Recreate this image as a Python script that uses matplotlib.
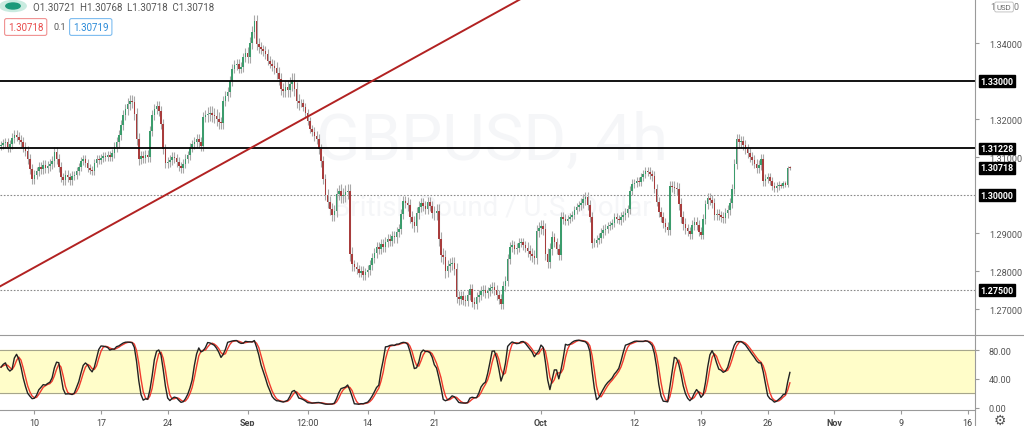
import numpy as np
import pandas as pd
import matplotlib
matplotlib.use("Agg")
import matplotlib.pyplot as plt
from matplotlib.lines import Line2D
from matplotlib.patches import Circle

plt.rcParams['font.family'] = ['Roboto', 'DejaVu Sans']

# GBPUSD 4h closes, Aug 5 12:00 .. Oct 27 (one row per trading day)
first_open = 1.3129
closes = [
    1.3132, 1.3137, 1.3139,                          # Aug 5
    1.3126, 1.3134, 1.3150, 1.3158, 1.3153, 1.3145,  # Aug 6
    1.3139, 1.3126, 1.3116, 1.3095, 1.3068, 1.3042,  # Aug 7
    1.3053, 1.3063, 1.3074, 1.3068, 1.3079, 1.3071,  # Aug 10
    1.3076, 1.3082, 1.3089, 1.3113, 1.3095, 1.3074,
    1.3047, 1.3039, 1.3053, 1.3047, 1.3039, 1.3050,
    1.3053, 1.3063, 1.3074, 1.3089, 1.3095, 1.3084,
    1.3071, 1.3066, 1.3063, 1.3084, 1.3095, 1.3092,
    1.3097, 1.3103, 1.3100, 1.3105, 1.3100, 1.3111,  # Aug 17
    1.3126, 1.3139, 1.3158, 1.3184, 1.3211, 1.3226,
    1.3239, 1.3247, 1.3245, 1.3213, 1.3147, 1.3095,
    1.3103, 1.3097, 1.3105, 1.3100, 1.3168, 1.3211,
    1.3226, 1.3234, 1.3221, 1.3187, 1.3121, 1.3084,
    1.3087, 1.3092, 1.3100, 1.3097, 1.3087, 1.3076,  # Aug 24
    1.3071, 1.3082, 1.3095, 1.3105, 1.3126, 1.3134,
    1.3139, 1.3147, 1.3139, 1.3129, 1.3205, 1.3211,
    1.3213, 1.3216, 1.3211, 1.3208, 1.3200, 1.3192,
    1.3189, 1.3247, 1.3261, 1.3271, 1.3300, 1.3332,
    1.3342, 1.3345, 1.3332, 1.3337, 1.3363, 1.3374,  # Aug 31
    1.3363, 1.3400, 1.3429, 1.3458, 1.3397, 1.3390,
    1.3384, 1.3379, 1.3371, 1.3353, 1.3345, 1.3339,
    1.3334, 1.3321, 1.3305, 1.3279, 1.3274, 1.3284,
    1.3276, 1.3292, 1.3303, 1.3279, 1.3247, 1.3242,
    1.3242, 1.3232, 1.3216, 1.3195, 1.3174, 1.3166,  # Sep 7
    1.3155, 1.3147, 1.3121, 1.3089, 1.3042, 1.3000,
    1.2982, 1.2963, 1.2947, 1.2958, 1.3003, 1.3011,
    1.2997, 1.3000, 1.3008, 1.3011, 1.2845, 1.2818,
    1.2811, 1.2805, 1.2795, 1.2800, 1.2789, 1.2797,
    1.2803, 1.2816, 1.2834, 1.2847, 1.2863, 1.2858,  # Sep 14
    1.2871, 1.2863, 1.2876, 1.2884, 1.2879, 1.2892,
    1.2889, 1.2903, 1.2911, 1.2950, 1.2984, 1.2979,
    1.2974, 1.2942, 1.2929, 1.2918, 1.2953, 1.2968,
    1.2979, 1.2971, 1.2963, 1.2982, 1.2971, 1.2953,
    1.2953, 1.2958, 1.2884, 1.2842, 1.2837, 1.2800,  # Sep 21
    1.2813, 1.2818, 1.2821, 1.2805, 1.2732, 1.2726,
    1.2734, 1.2724, 1.2721, 1.2737, 1.2753, 1.2718,
    1.2713, 1.2732, 1.2737, 1.2747, 1.2750, 1.2742,
    1.2747, 1.2755, 1.2758, 1.2750, 1.2737, 1.2726,
    1.2713, 1.2761, 1.2774, 1.2832, 1.2863, 1.2868,  # Sep 28
    1.2858, 1.2861, 1.2874, 1.2876, 1.2868, 1.2861,
    1.2853, 1.2845, 1.2839, 1.2834, 1.2905, 1.2913,
    1.2918, 1.2911, 1.2845, 1.2824, 1.2858, 1.2889,
    1.2876, 1.2858, 1.2842, 1.2942, 1.2937, 1.2932,
    1.2937, 1.2942, 1.2947, 1.2961, 1.2968, 1.2974,  # Oct 5
    1.2979, 1.2989, 1.2995, 1.2974, 1.2942, 1.2874,
    1.2874, 1.2882, 1.2887, 1.2900, 1.2908, 1.2911,
    1.2918, 1.2921, 1.2926, 1.2942, 1.2937, 1.2934,
    1.2942, 1.2947, 1.2953, 1.2963, 1.3011, 1.3029,
    1.3032, 1.3037, 1.3034, 1.3047, 1.3055, 1.3063,  # Oct 12
    1.3061, 1.3055, 1.3050, 1.3016, 1.2982, 1.2955,
    1.2942, 1.2926, 1.2916, 1.2908, 1.3024, 1.3021,
    1.3018, 1.3016, 1.2976, 1.2942, 1.2924, 1.2913,
    1.2905, 1.2897, 1.2921, 1.2929, 1.2921, 1.2903,
    1.2895, 1.2937, 1.2976, 1.2992, 1.2987, 1.2979,  # Oct 19
    1.2947, 1.2950, 1.2947, 1.2942, 1.2939, 1.2953,
    1.2961, 1.2979, 1.3016, 1.3082, 1.3147, 1.3139,
    1.3142, 1.3132, 1.3121, 1.3111, 1.3100, 1.3092,
    1.3082, 1.3071, 1.3079, 1.3095, 1.3037, 1.3042,
    1.3047, 1.3037, 1.3024, 1.3018, 1.3024, 1.3026,  # Oct 26
    1.3024, 1.3032, 1.3026, 1.30721, 1.30718,
]

# typical wick length per trading day, in pips
wick_pips = [10, 12, 14, 12, 14, 12, 10, 10,
             10, 14, 16, 14, 14,
             12, 12, 14, 18, 14,
             12, 16, 12, 16, 18,
             10, 14, 16, 18, 12,
             14, 14, 14, 16, 14,
             18, 16, 14, 14, 12,
             14, 12, 16, 16, 12,
             10, 14, 12, 10, 12,
             10, 12, 14, 16, 12,
             12, 12, 14, 14, 12,
             10, 5]

tick_pos = [15, 45, 75, 111, 138, 165, 195, 243, 285, 315, 345, 375, 405, 435]
tick_lbl = ['10', '17', '24', 'Sep', '12:00', '14', '21', 'Oct', '12', '19', '26', 'Nov', '9', '16']
bold_lbl = ['Sep', 'Oct', 'Nov']

solid_levels = [1.33000, 1.31228]
dotted_levels = [1.30000, 1.27500]
tag_levels = [1.33000, 1.31228, 1.30718, 1.30000, 1.27500]
price_ticks = [1.27, 1.28, 1.29, 1.31, 1.32, 1.34]
stoch_ticks = [0, 40, 80]
trend_pts = [(0, 1.2761), (167, 1.3300)]

green = '#3b9c6c'
red = '#a83c3c'

W, H = 1024, 427
def fx(px):
    return px / W
def fy(py):
    return 1 - py / H

fig = plt.figure(figsize=(10.24, 4.27), dpi=100)
ax = fig.add_axes([0, fy(336), fx(975), 336 / H])
ax2 = fig.add_axes([0, fy(411), fx(975), 75 / H], sharex=ax)

# candles
c = np.array(closes)
idx = np.arange(len(c))
o = np.r_[first_open, c[:-1]]
w = np.array(wick_pips)[(idx + 3) // 6] * 1e-4
hi = np.maximum(o, c) + w
lo = np.minimum(o, c) - w
up = c >= o
ax.vlines(idx, lo, hi, color='#a8a8a8', lw=0.8, zorder=2)
ax.bar(idx, np.maximum(np.abs(c - o), 0.00008), bottom=np.minimum(o, c), width=0.7,
       color=np.where(up, green, red), lw=0, zorder=3)

for lv in solid_levels:
    ax.axhline(lv, color='black', lw=1.3, zorder=4)
for lv in dotted_levels:
    ax.axhline(lv, color='#8a8a8a', lw=0.8, ls=(0, (1.5, 1.5)), zorder=1)
ax.axline(trend_pts[0], trend_pts[1], color='#b22222', lw=1.4, zorder=4)

ax.set_xlim(-0.45, 438.3)
ax.set_ylim(1.263158, 1.351579)
for sp in ax.spines.values():
    sp.set_visible(False)
ax.tick_params(axis='x', bottom=False, labelbottom=False)
ax.yaxis.tick_right()
ax.set_yticks(price_ticks)
ax.set_yticklabels(['%.5f' % v for v in price_ticks])
ax.tick_params(axis='y', length=3, color='#9a9a9a', labelsize=6.6, labelcolor='#555555', pad=7)

for lv in tag_levels:
    ax.text(1.0055, lv, '%.5f' % lv, transform=ax.get_yaxis_transform(), ha='left', va='center',
            fontsize=6.4, color='white', fontweight='bold', zorder=10, clip_on=False,
            bbox=dict(boxstyle='square,pad=0.15', fc='black', ec='black'))

# watermark
ax.text(fx(492), fy(160), 'GBPUSD, 4h', transform=fig.transFigure, ha='center', va='baseline',
        fontsize=47, color='#f5f6f8', zorder=0)
ax.text(fx(492), fy(216), 'British Pound / U.S. Dollar', transform=fig.transFigure, ha='center',
        va='baseline', fontsize=20, color='#f5f6f8', zorder=0)

# stochastic 14,3,3
s = pd.DataFrame({'h': hi, 'l': lo, 'c': c})
hh = s['h'].rolling(14, min_periods=1).max()
ll = s['l'].rolling(14, min_periods=1).min()
k_raw = 100 * (s['c'] - ll) / (hh - ll)
k_line = k_raw.rolling(3, min_periods=1).mean()
d_line = k_line.rolling(3, min_periods=1).mean()

ax2.axhspan(20, 80, color='#fffdc9', zorder=0)
ax2.axhline(80, color='#a6a68c', lw=0.8, zorder=1)
ax2.axhline(20, color='#a6a68c', lw=0.8, zorder=1)
ax2.plot(idx, d_line, color='#f03a2e', lw=1.0, zorder=3)
ax2.plot(idx, k_line, color='#222222', lw=1.0, zorder=4)
ax2.set_ylim(-3.2, 101.3)
for sp in ax2.spines.values():
    sp.set_visible(False)
ax2.yaxis.tick_right()
ax2.set_yticks(stoch_ticks)
ax2.set_yticklabels(['%.2f' % v for v in stoch_ticks])
ax2.tick_params(axis='y', length=3, color='#9a9a9a', labelsize=6.6, labelcolor='#555555', pad=7)
ax2.set_xticks(tick_pos)
ax2.set_xticklabels(tick_lbl)
ax2.tick_params(axis='x', length=3, color='#9a9a9a', labelsize=6.5, labelcolor='#444444', pad=3)
for t in ax2.get_xticklabels():
    if t.get_text() in bold_lbl:
        t.set_fontweight('bold')

# pane borders
fig.add_artist(Line2D([0, 1], [fy(336), fy(336)], color='#9a9a9a', lw=0.8))
fig.add_artist(Line2D([0, fx(975)], [fy(411), fy(411)], color='#9a9a9a', lw=0.8))
fig.add_artist(Line2D([fx(975), fx(975)], [0, 1], color='#9a9a9a', lw=0.8))

# header legend
fig.add_artist(Circle((fx(13), fy(7)), 5.5 / H, transform=fig.transFigure, color='#c9ebe0'))
fig.add_artist(Circle((fx(13), fy(7)), 3 / H, transform=fig.transFigure, color='#1b9a7a'))
fig.text(fx(33), fy(8), 'O1.30721  H1.30768  L1.30718  C1.30718', fontsize=7.0,
         color='#555555', va='center', ha='left')
fig.text(fx(8), fy(28), '1.30718', fontsize=7.0, color='#e84a4a', va='center', ha='left',
         bbox=dict(boxstyle='round,pad=0.35,rounding_size=0.2', fc='white', ec='#f09090', lw=0.8))
fig.text(fx(54), fy(28), '0.1', fontsize=6.5, color='#555555', va='center', ha='left')
fig.text(fx(73), fy(28), '1.30719', fontsize=7.0, color='#2a8ad8', va='center', ha='left',
         bbox=dict(boxstyle='round,pad=0.35,rounding_size=0.2', fc='white', ec='#7cbcf0', lw=0.8))

fig.text(fx(993), fy(8), '1', fontsize=6.4, color='#777777', va='center', ha='center')
fig.text(fx(1004), fy(8), 'USD', fontsize=5.6, color='#666666', va='center', ha='center',
         bbox=dict(boxstyle='round,pad=0.25,rounding_size=0.2', fc='white', ec='#bbbbbb', lw=0.6))
fig.text(fx(1016), fy(8), '0', fontsize=6.4, color='#777777', va='center', ha='center')
fig.text(fx(1000), fy(421), '\u2699', fontsize=10, color='#555555', va='center', ha='center',
         family=['DejaVu Sans'])

fig.savefig('out.png', dpi=100)
